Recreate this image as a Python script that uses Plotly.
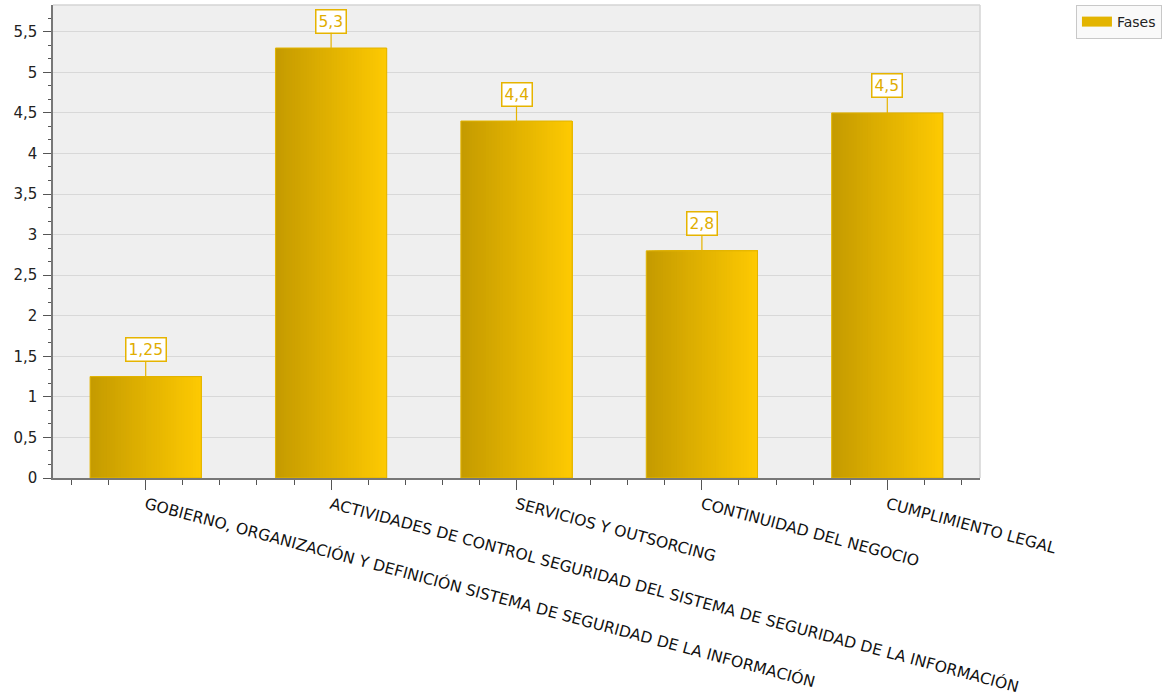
import plotly.graph_objects as go

categories = [
    "GOBIERNO, ORGANIZACIÓN Y DEFINICIÓN SISTEMA DE SEGURIDAD DE LA INFORMACIÓN",
    "ACTIVIDADES DE CONTROL SEGURIDAD DEL SISTEMA DE SEGURIDAD DE LA INFORMACIÓN",
    "SERVICIOS Y OUTSORCING",
    "CONTINUIDAD DEL NEGOCIO",
    "CUMPLIMIENTO LEGAL",
]
values = [1.25, 5.3, 4.4, 2.8, 4.5]
series_name = "Fases"
y_tickvals = [0, 0.5, 1, 1.5, 2, 2.5, 3, 3.5, 4, 4.5, 5, 5.5]

positions = list(range(len(categories)))

fig = go.Figure()

# gradient bars built from overlaid slices, each reaching the right edge
N = 40
bar_w = 0.6
c0 = (197, 155, 0)
c1 = (253, 201, 2)
for k in range(N):
    t = k / (N - 1)
    col = "rgb(%d,%d,%d)" % tuple(round(a + (b - a) * t) for a, b in zip(c0, c1))
    fig.add_trace(go.Bar(
        x=positions, y=values,
        width=bar_w - k * bar_w / N, offset=-bar_w / 2 + k * bar_w / N,
        marker=dict(color=col, line=dict(width=0)),
        showlegend=False, hoverinfo="skip",
    ))

# outline
fig.add_trace(go.Bar(
    x=positions, y=values, width=bar_w, name=series_name,
    marker=dict(color="rgba(0,0,0,0)", line=dict(color="#e2b400", width=1)),
    showlegend=False, hoverinfo="skip",
))
# legend entry (wide swatch)
fig.add_trace(go.Scatter(
    x=[None], y=[None], name=series_name, mode="lines",
    line=dict(color="#e3b400", width=20),
    showlegend=True,
))

for p, v in zip(positions, values):
    fig.add_annotation(
        x=p, y=v, text=("%g" % v).replace(".", ","),
        showarrow=True, arrowhead=0, arrowwidth=1.2, arrowcolor="#e6b400",
        ax=0, ay=-27,
        bgcolor="white", bordercolor="#e6b400", borderwidth=1.5, borderpad=2,
        font=dict(family="DejaVu Sans", size=15.5, color="#e0ad00"),
    )

fig.update_layout(
    width=1162, height=698,
    margin=dict(l=53, r=182, t=5, b=220, autoexpand=False),
    paper_bgcolor="white",
    plot_bgcolor="#efefef",
    barmode="overlay",
    separators=",.",
    font=dict(family="DejaVu Sans", size=13, color="#222222"),
    legend=dict(
        x=1.1035, y=1.0, xanchor="left", yanchor="top",
        bgcolor="#f9f9f9", bordercolor="#c8c8c8", borderwidth=1,
        font=dict(family="DejaVu Sans", size=14, color="#222222"),
        itemwidth=30,
    ),
    xaxis=dict(
        range=[-0.5, 4.5],
        tickmode="array", tickvals=positions, ticktext=categories,
        tickangle=15,
        ticks="outside", ticklen=10, tickcolor="#555555",
        minor=dict(tickmode="linear", tick0=0, dtick=0.2, ticks="outside",
                   ticklen=5, tickcolor="#555555", showgrid=False),
        showline=True, linecolor="#777777", linewidth=1.5,
        showgrid=False, zeroline=False,
        tickfont=dict(family="DejaVu Sans", size=15.6, color="#111111"),
        automargin=False,
    ),
    yaxis=dict(
        range=[0, 5.83],
        tickmode="array", tickvals=y_tickvals,
        ticks="outside", ticklen=8, tickcolor="#555555",
        ticklabelstandoff=3,
        minor=dict(tickmode="linear", tick0=0, dtick=0.5 / 3, ticks="outside",
                   ticklen=3, tickcolor="#555555", showgrid=False),
        showline=True, linecolor="#777777", linewidth=1.5,
        showgrid=True, gridcolor="#d8d8d8", gridwidth=1,
        zeroline=False,
        tickfont=dict(family="DejaVu Sans", size=15, color="#222222"),
        automargin=False,
    ),
)

# light frame on top and right of the plot area
fig.add_shape(type="line", xref="paper", yref="paper", x0=0, x1=1, y0=1, y1=1,
              line=dict(color="#d4d4d4", width=1.5), layer="above")
fig.add_shape(type="line", xref="paper", yref="paper", x0=1, x1=1, y0=0, y1=1,
              line=dict(color="#d4d4d4", width=1.5), layer="above")

fig.write_html("out.html")
